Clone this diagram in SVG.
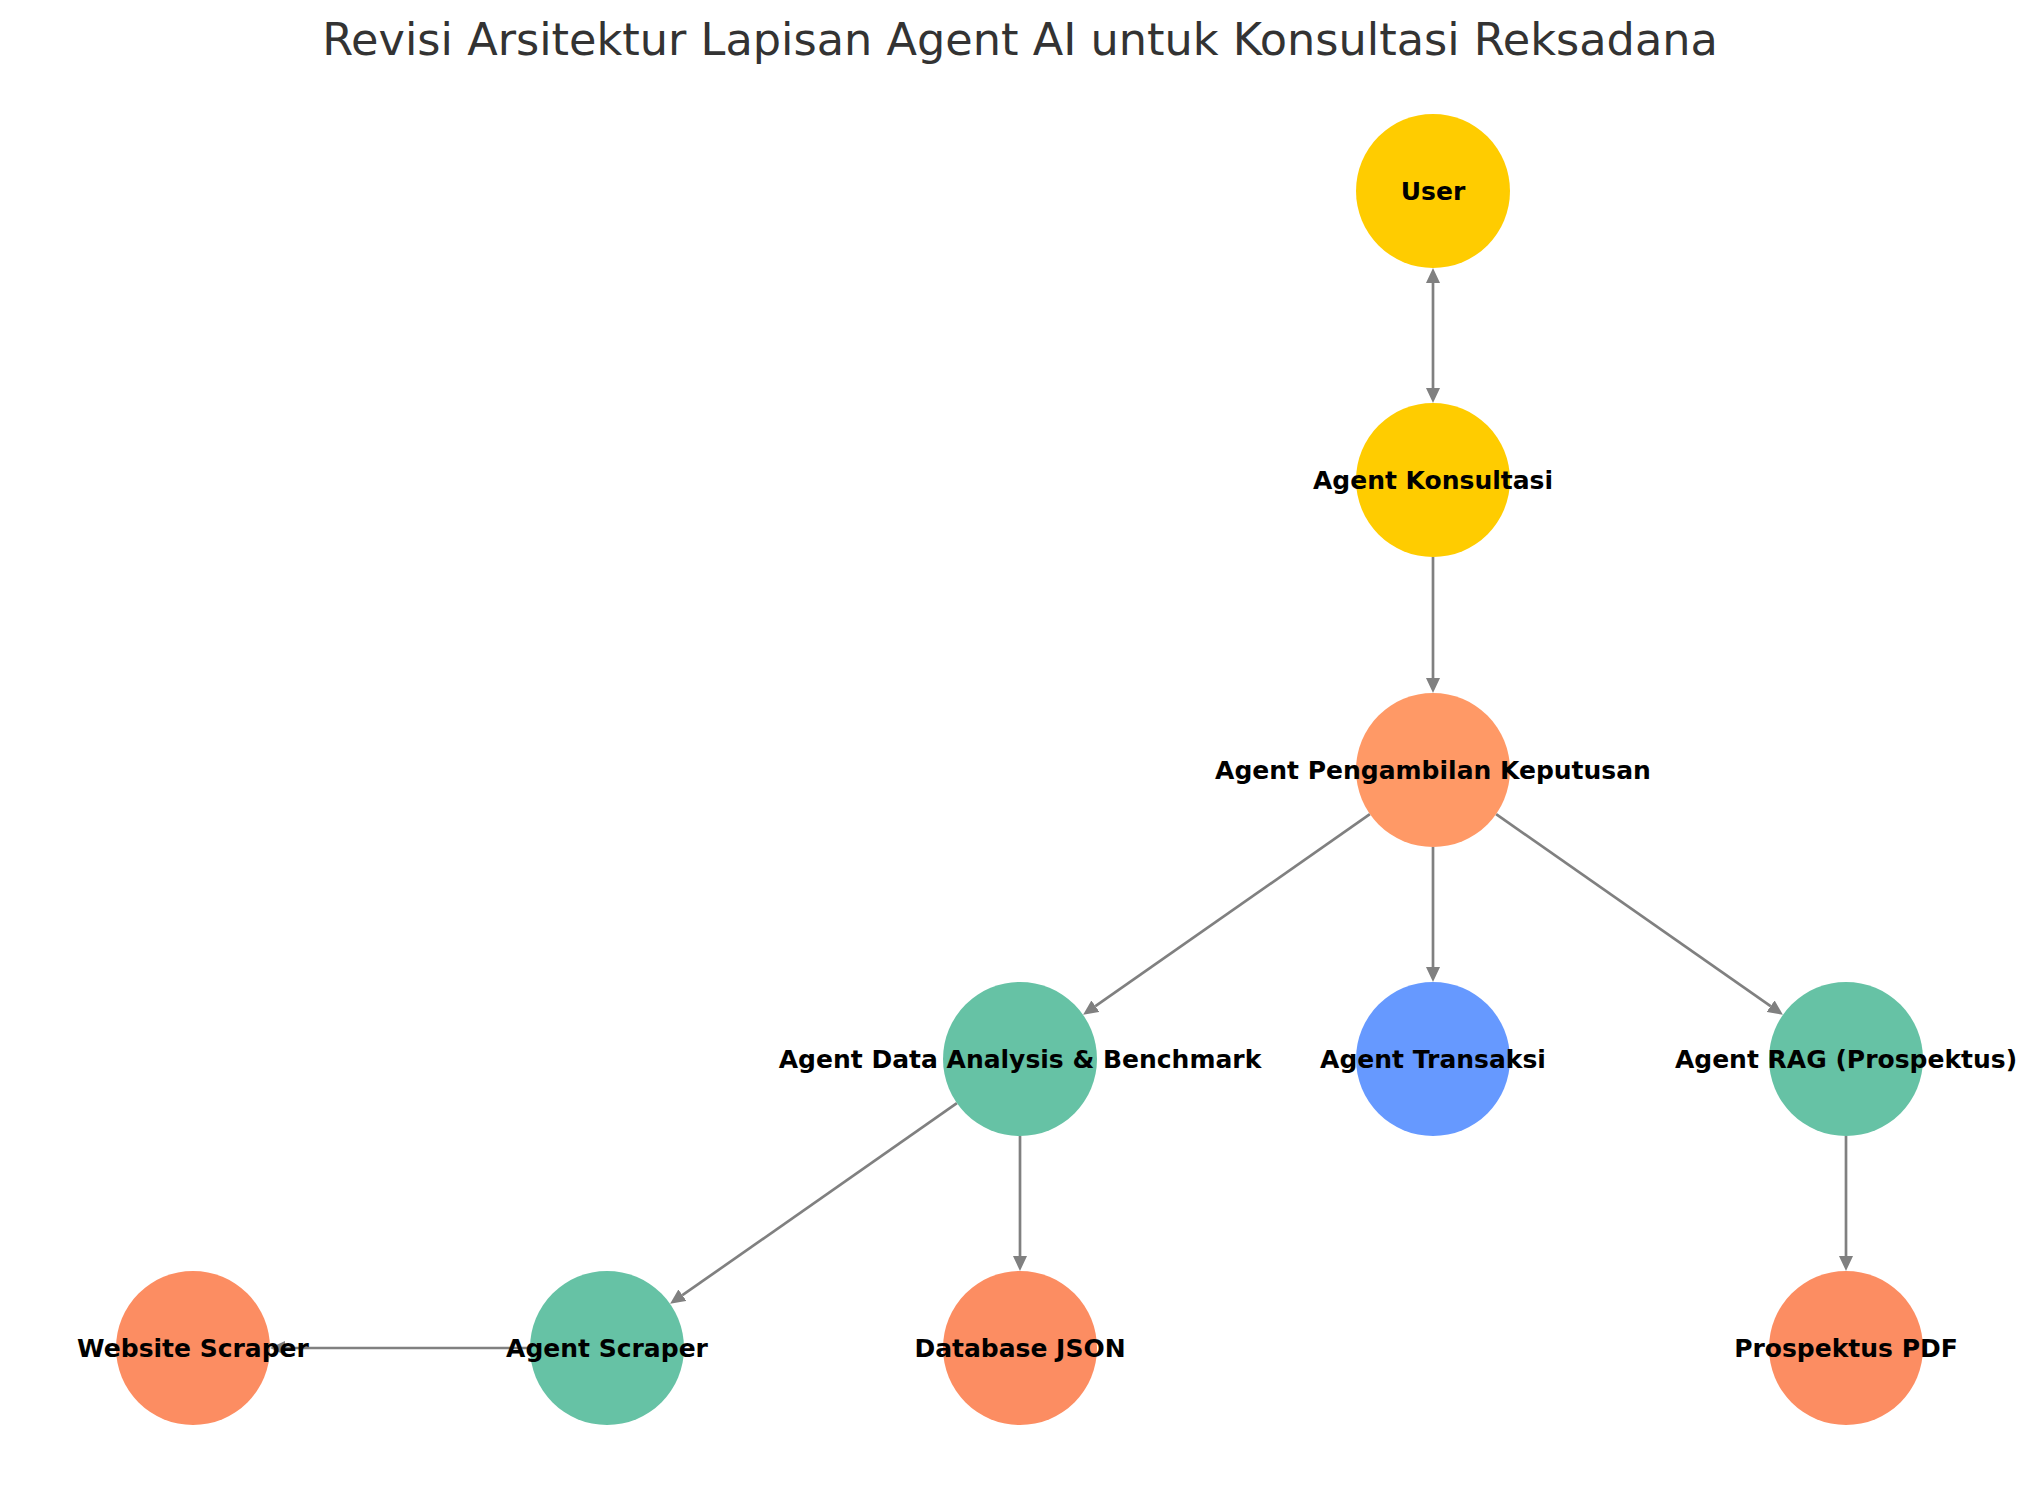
<svg xmlns="http://www.w3.org/2000/svg" width="2039" height="1490" viewBox="0 0 2039 1490">
<style>
.edge{stroke:#808080;stroke-width:2.7;fill:none}
.lbl{font-family:"DejaVu Sans",sans-serif;font-weight:bold;font-size:25px;fill:#000;text-anchor:middle}
.title{font-family:"DejaVu Sans",sans-serif;font-size:44.6px;fill:#333333;text-anchor:middle}
.yel{fill:#FFCC00}.org{fill:#FC8D62}.org2{fill:#FF9966}.grn{fill:#66C2A5}.blu{fill:#6699FF}
</style>
<defs>
<marker id="ah" markerUnits="userSpaceOnUse" markerWidth="15" markerHeight="14" refX="0" refY="7" orient="auto-start-reverse" viewBox="0 0 15 14">
<path d="M0,0 L15,7 L0,14 z" fill="#808080"/>
</marker>
</defs>
<rect width="2039" height="1490" fill="#fff"/>
<text class="title" x="1020" y="55">Revisi Arsitektur Lapisan Agent AI untuk Konsultasi Reksadana</text>
<g id="edges">
<line class="edge" x1="1433" y1="283" x2="1433" y2="388" marker-start="url(#ah)" marker-end="url(#ah)"/>
<line class="edge" x1="1433" y1="557" x2="1433" y2="678" marker-end="url(#ah)"/>
<line class="edge" x1="1433" y1="847" x2="1433" y2="967" marker-end="url(#ah)"/>
<line class="edge" x1="1369.9" y1="814.2" x2="1095.4" y2="1006.2" marker-end="url(#ah)"/>
<line class="edge" x1="1496.1" y1="814.2" x2="1770.6" y2="1006.2" marker-end="url(#ah)"/>
<line class="edge" x1="1020" y1="1136" x2="1020" y2="1256" marker-end="url(#ah)"/>
<line class="edge" x1="956.9" y1="1103.2" x2="682.4" y2="1295.2" marker-end="url(#ah)"/>
<line class="edge" x1="1846" y1="1136" x2="1846" y2="1256" marker-end="url(#ah)"/>
<line class="edge" x1="530" y1="1348" x2="285" y2="1348" marker-end="url(#ah)"/>
</g>
<g id="node-user"><circle class="yel" cx="1433" cy="191" r="77"/></g>
<g id="node-konsultasi"><circle class="yel" cx="1433" cy="480" r="77"/></g>
<g id="node-pengambilan"><circle class="org2" cx="1433" cy="770" r="77"/></g>
<g id="node-data-analysis"><circle class="grn" cx="1020" cy="1059" r="77"/></g>
<g id="node-transaksi"><circle class="blu" cx="1433" cy="1059" r="77"/></g>
<g id="node-rag"><circle class="grn" cx="1846" cy="1059" r="77"/></g>
<g id="node-website-scraper"><circle class="org" cx="193" cy="1348" r="77"/></g>
<g id="node-agent-scraper"><circle class="grn" cx="607" cy="1348" r="77"/></g>
<g id="node-database-json"><circle class="org" cx="1020" cy="1348" r="77"/></g>
<g id="node-prospektus-pdf"><circle class="org" cx="1846" cy="1348" r="77"/></g>
<g id="labels">
<text class="lbl" x="1433" y="200">User</text>
<text class="lbl" x="1433" y="489">Agent Konsultasi</text>
<text class="lbl" x="1433" y="779">Agent Pengambilan Keputusan</text>
<text class="lbl" x="1020" y="1068">Agent Data Analysis &amp; Benchmark</text>
<text class="lbl" x="1433" y="1068">Agent Transaksi</text>
<text class="lbl" x="1846" y="1068">Agent RAG (Prospektus)</text>
<text class="lbl" x="193" y="1357">Website Scraper</text>
<text class="lbl" x="607" y="1357">Agent Scraper</text>
<text class="lbl" x="1020" y="1357">Database JSON</text>
<text class="lbl" x="1846" y="1357">Prospektus PDF</text>
</g>
</svg>
